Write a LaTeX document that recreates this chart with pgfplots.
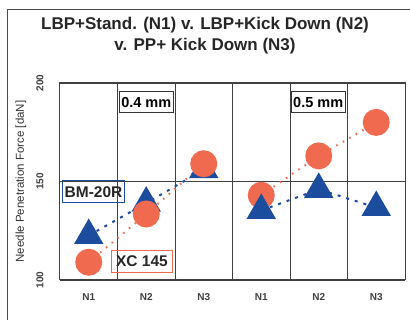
\documentclass[border=0pt]{standalone}
\usepackage{pgfplots}
\pgfplotsset{compat=1.18}
\usepackage{fontspec}
\setmainfont{Liberation Sans}
\definecolor{cred}{HTML}{F06A50}
\definecolor{cblue}{HTML}{1B4C9E}
\begin{document}
\begin{tikzpicture}[x=1pt,y=1pt]
\path[use as bounding box] (0,0) rectangle (410,320);
\draw[black!70, line width=0.8pt] (7,0)--(7,311)--(410,311);
\node[font=\bfseries\fontsize{17}{20}\selectfont, text=black!85] at (205,295) {LBP+Stand. (N1) v. LBP+Kick Down (N2)};
\node[font=\bfseries\fontsize{17}{20}\selectfont, text=black!85] at (205,274) {v. PP+ Kick Down (N3)};
\begin{axis}[at={(60pt,40pt)}, anchor=south west, scale only axis,
  width=345pt, height=197pt,
  xmin=-0.5, xmax=5.5, ymin=100, ymax=200,
  xtick={0,...,5}, xticklabels={N1,N2,N3,N1,N2,N3},
  ytick={100,150,200},
  minor xtick={0.5,1.5,2.5,3.5,4.5},
  xminorgrids, ymajorgrids,
  grid style={black!75, line width=0.8pt},
  minor grid style={black!75, line width=0.8pt},
  major tick length=0pt, minor tick length=0pt,
  axis line style={black!75, line width=1pt},
  /pgf/number format/assume math mode=true,
  tick label style={font=\bfseries\fontsize{10}{11}\selectfont, text=black!75},
  yticklabel style={anchor=center, xshift=-20pt, rotate=90},
  xticklabel style={anchor=center, yshift=-17pt},
  ylabel={Needle Penetration Force [daN]},
  every axis y label/.style={at={(axis description cs:0,0.5)}, anchor=center, xshift=-39pt, rotate=90, font=\fontsize{11.5}{12}\selectfont, text=black!80},
  clip=false]
% group 0.4 mm: triangles (under circles)
\addplot[cblue, line width=2pt, dash pattern=on 3pt off 6pt, mark=triangle*, mark size=15pt, mark options={solid, fill=cblue, draw=cblue}]
  coordinates {(0,122.6) (1,139) (2,156)};
\addplot[cred, line width=2pt, dash pattern=on 1.5pt off 6pt, mark=*, mark size=12.5pt, mark options={solid, fill=cred, draw=cred}]
  coordinates {(0,109) (1,133.5) (2,159)};
% group 0.5 mm: circles then triangles
\addplot[cred, line width=2pt, dash pattern=on 1.5pt off 6pt, mark=*, mark size=12.5pt, mark options={solid, fill=cred, draw=cred}]
  coordinates {(3,143) (4,163) (5,180)};
\addplot[cblue, line width=2pt, dash pattern=on 3pt off 6pt, mark=triangle*, mark size=15pt, mark options={solid, fill=cblue, draw=cblue}]
  coordinates {(3,135.3) (4,146) (5,136.8)};
\node[draw=black!80, line width=1pt, font=\bfseries\fontsize{14.5}{16}\selectfont, inner sep=2pt, minimum height=21pt] at (axis cs:1.0,190.1) {0.4 mm};
\node[draw=black!80, line width=1pt, font=\bfseries\fontsize{14.5}{16}\selectfont, inner sep=2pt, minimum height=21pt] at (axis cs:3.99,190.1) {0.5 mm};
\node[draw=cblue, line width=1pt, font=\bfseries\fontsize{15.5}{17}\selectfont, inner sep=2pt, minimum height=22pt, text=black!85] at (axis cs:0.083,144.7) {BM-20R};
\node[draw=cred, line width=1pt, font=\bfseries\fontsize{15.5}{17}\selectfont, inner xsep=5pt, inner ysep=2pt, minimum height=22pt, text=black!85] at (axis cs:0.926,109.4) {XC 145};
\end{axis}
\end{tikzpicture}
\end{document}
